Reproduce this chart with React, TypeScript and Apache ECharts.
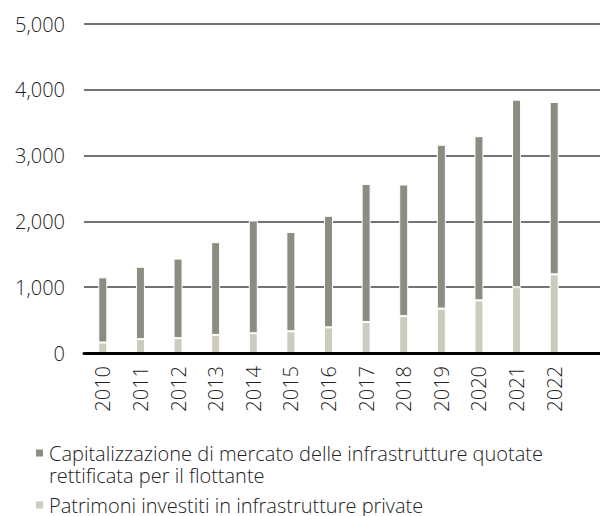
import React, { useEffect, useRef } from "react";
import * as echarts from "echarts";

const years = ["2010", "2011", "2012", "2013", "2014", "2015", "2016", "2017", "2018", "2019", "2020", "2021", "2022"];
const privateAssets = [160, 210, 225, 275, 300, 330, 390, 470, 560, 675, 800, 1000, 1195];
const listedCap = [990, 1100, 1210, 1410, 1715, 1510, 1695, 2100, 2000, 2490, 2495, 2850, 2620];
const seriesNames = [
  "Capitalizzazione di mercato delle infrastrutture quotate\nrettificata per il flottante",
  "Patrimoni investiti in infrastrutture private",
];
const yTicks = { min: 0, max: 5000, interval: 1000 };

const FONT = "'Open Sans', 'Noto Sans', sans-serif";

export default function App() {
  const ref = useRef<HTMLDivElement>(null);
  useEffect(() => {
    document.body.style.margin = "0";
    const chart = echarts.init(ref.current!, null, { renderer: "svg" });
    const legendText = {
      fontSize: 20,
      fontWeight: 300,
      color: "#222",
      lineHeight: 22,
      fontFamily: FONT,
    };
    chart.setOption({
      animation: false,
      textStyle: { fontFamily: FONT },
      grid: [
        { left: 84, right: 0, top: 24, bottom: 163 },
        { left: 84, right: 27, top: 24, bottom: 163 },
      ],
      xAxis: [
        {
          gridIndex: 0,
          type: "value",
          min: 0,
          max: 1,
          axisLabel: { show: false },
          axisTick: { show: false },
          splitLine: { show: false },
          axisLine: { show: true, lineStyle: { color: "#000", width: 3 } },
          z: 5,
        },
        {
          gridIndex: 1,
          type: "category",
          data: years,
          axisLine: { show: false },
          axisTick: { show: false },
          axisLabel: {
            rotate: 90,
            margin: 13,
            fontSize: 20,
            fontWeight: 300,
            color: "#222",
            fontFamily: FONT,
          },
        },
      ],
      yAxis: [
        {
          gridIndex: 0,
          type: "value",
          ...yTicks,
          axisLine: { show: false },
          axisTick: { show: false },
          axisLabel: {
            margin: 19,
            fontSize: 20,
            fontWeight: 300,
            color: "#222",
            fontFamily: FONT,
            formatter: (v: number) => v.toLocaleString("en-US"),
          },
          splitLine: { lineStyle: { color: "#444", width: 1.5 } },
        },
        {
          gridIndex: 1,
          type: "value",
          ...yTicks,
          show: false,
          splitLine: { show: false },
        },
      ],
      legend: [
        {
          orient: "vertical",
          left: 34,
          top: 442,
          padding: 0,
          itemWidth: 9,
          itemHeight: 31,
          icon: "path://M0,0h9v9h-9z M0,31h0.01v0.01h-0.01z",
          data: [seriesNames[0]],
          textStyle: legendText,
        },
        {
          orient: "vertical",
          left: 34,
          top: 494,
          padding: 0,
          itemWidth: 9,
          itemHeight: 9,
          icon: "rect",
          data: [seriesNames[1]],
          textStyle: legendText,
        },
      ],
      series: [
        {
          name: seriesNames[1],
          type: "bar",
          stack: "total",
          xAxisIndex: 1,
          yAxisIndex: 1,
          barWidth: 9,
          data: privateAssets,
          itemStyle: { color: "#cdcbbd", borderColor: "#fff", borderWidth: 1 },
        },
        {
          name: seriesNames[0],
          type: "bar",
          stack: "total",
          xAxisIndex: 1,
          yAxisIndex: 1,
          barWidth: 9,
          data: listedCap,
          itemStyle: { color: "#8c8c80", borderColor: "#fff", borderWidth: 1 },
        },
      ],
    });
    return () => chart.dispose();
  }, []);
  return <div ref={ref} style={{ width: 600, height: 516 }} />;
}
